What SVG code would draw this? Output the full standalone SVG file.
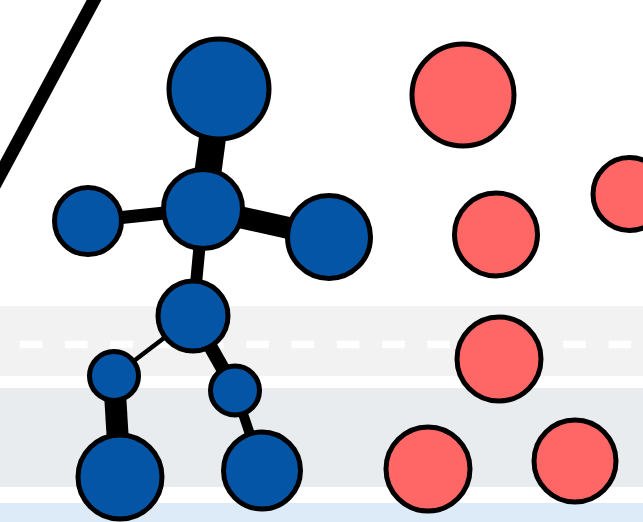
<svg xmlns="http://www.w3.org/2000/svg" width="643" height="522" viewBox="0 0 643 522">
  <style>
    .blue { fill: #0455A6; stroke: #000; stroke-width: 5; }
    .red { fill: #FF6666; stroke: #000; stroke-width: 5; }
    .edge { stroke: #000; stroke-linecap: butt; fill: none; }
  </style>
  <g id="background">
    <rect x="0" y="0" width="643" height="522" fill="#FFFFFF"/>
    <rect x="0" y="306" width="643" height="70" fill="#F2F2F2"/>
    <rect x="0" y="388" width="643" height="99" fill="#E8ECEF"/>
    <rect x="0" y="503" width="643" height="19" fill="#DCEBF7"/>
    <line x1="19.7" y1="344.5" x2="643" y2="344.5" stroke="#FFFFFF" stroke-width="7.5" stroke-dasharray="22.6 22.7"/>
    <line x1="99.4" y1="-10" x2="-13.4" y2="200" stroke="#000" stroke-width="13"/>
  </g>
  <g id="connectors">
    <line class="edge" x1="219" y1="89" x2="203" y2="209" stroke-width="27"/>
    <line class="edge" x1="203" y1="209" x2="88" y2="221" stroke-width="13"/>
    <line class="edge" x1="203" y1="209" x2="329" y2="237" stroke-width="22"/>
    <line class="edge" x1="203" y1="209" x2="193" y2="316" stroke-width="12"/>
    <line class="edge" x1="193" y1="316" x2="114" y2="376" stroke-width="4.5"/>
    <line class="edge" x1="193" y1="316" x2="235" y2="390" stroke-width="14"/>
    <line class="edge" x1="114" y1="376" x2="120" y2="477" stroke-width="22"/>
    <line class="edge" x1="235" y1="390" x2="262" y2="470" stroke-width="10"/>
  </g>
  <g id="node-top"><circle class="blue" cx="219" cy="89" r="50"/></g>
  <g id="node-center"><circle class="blue" cx="203" cy="209" r="39.5"/></g>
  <g id="node-left"><circle class="blue" cx="88" cy="221" r="33.5"/></g>
  <g id="node-right"><circle class="blue" cx="329" cy="237" r="41.5"/></g>
  <g id="node-mid"><circle class="blue" cx="193" cy="316" r="35"/></g>
  <g id="node-small-left"><circle class="blue" cx="114" cy="376" r="24.5"/></g>
  <g id="node-small-right"><circle class="blue" cx="235" cy="390.5" r="24.5"/></g>
  <g id="node-bottom-left"><circle class="blue" cx="120" cy="477" r="42"/></g>
  <g id="node-bottom-right"><circle class="blue" cx="262" cy="470.5" r="38.5"/></g>
  <g id="red-1"><circle class="red" cx="463" cy="95" r="51"/></g>
  <g id="red-2"><circle class="red" cx="496" cy="234.5" r="41.5"/></g>
  <g id="red-3"><circle class="red" cx="629.5" cy="194" r="36.5"/></g>
  <g id="red-4"><circle class="red" cx="499" cy="359" r="42"/></g>
  <g id="red-5"><circle class="red" cx="428" cy="469" r="42"/></g>
  <g id="red-6"><circle class="red" cx="575" cy="461" r="41"/></g>
</svg>
